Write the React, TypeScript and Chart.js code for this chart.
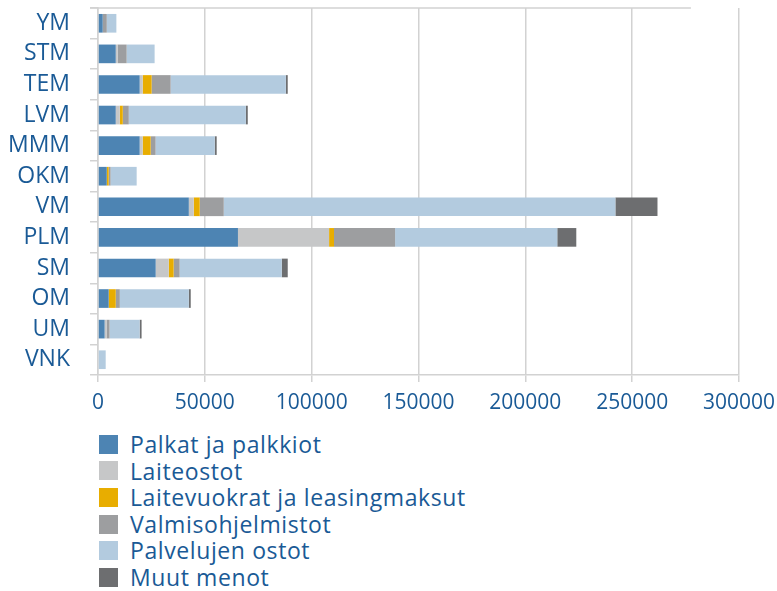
import React, { useEffect, useRef } from "react";
import { Chart, registerables } from "chart.js";

Chart.register(...registerables);

const categories = ["YM", "STM", "TEM", "LVM", "MMM", "OKM", "VM", "PLM", "SM", "OM", "UM", "VNK"];

const palkat = [2200, 8300, 19500, 8300, 19500, 4100, 42500, 65500, 27000, 5000, 3100, 0];
const laiteostot = [0, 900, 1400, 1900, 1400, 0, 2300, 42650, 6100, 0, 900, 0];
const laitevuokrat = [0, 0, 4200, 1400, 3750, 900, 2800, 2300, 2300, 3300, 0, 0];
const valmisohjelmistot = [1900, 4200, 8900, 2800, 2300, 900, 11250, 28600, 2800, 1900, 1400, 0];
const palvelujenOstot = [4500, 13100, 53900, 54800, 27700, 12200, 183300, 75900, 47800, 32300, 14100, 3600];
const muutMenot = [0, 0, 900, 900, 900, 0, 19700, 8900, 2800, 900, 900, 0];

const seriesLabels = [
  "Palkat ja palkkiot",
  "Laiteostot",
  "Laitevuokrat ja leasingmaksut",
  "Valmisohjelmistot",
  "Palvelujen ostot",
  "Muut menot",
];
const seriesColors = ["#4d84b3", "#c6c7c8", "#e8ad00", "#9d9ea0", "#b3cbdf", "#6d6e70"];
const seriesValues = [palkat, laiteostot, laitevuokrat, valmisohjelmistot, palvelujenOstot, muutMenot];

const xMax = 300000;
const xStep = 50000;
const topLineEnd = 277500;

const textColor = "#1a5a96";
const gridColor = "#d2d2d2";
const fontFamily = "'Open Sans', 'Noto Sans', sans-serif";

export default function App() {
  const ref = useRef<HTMLCanvasElement>(null);

  useEffect(() => {
    document.body.style.margin = "0";
    const topLine = {
      id: "topLine",
      afterDraw(chart: any) {
        const { ctx, chartArea, scales } = chart;
        ctx.save();
        ctx.strokeStyle = gridColor;
        ctx.lineWidth = 1.5;
        ctx.beginPath();
        ctx.moveTo(chartArea.left - 8, chartArea.top);
        ctx.lineTo(scales.x.getPixelForValue(topLineEnd), chartArea.top);
        ctx.stroke();
        ctx.restore();
      },
    };
    const chart = new Chart(ref.current as HTMLCanvasElement, {
      type: "bar",
      data: {
        labels: categories,
        datasets: seriesValues.map((vals, i) => ({
          label: seriesLabels[i],
          data: vals,
          backgroundColor: seriesColors[i],
          borderWidth: 0,
          barPercentage: 0.61,
          categoryPercentage: 1,
        })),
      },
      options: {
        indexAxis: "y",
        responsive: false,
        animation: false,
        layout: { padding: { top: 8, right: 38, left: 0, bottom: 0 } },
        plugins: { legend: { display: false }, tooltip: { enabled: false } },
        scales: {
          x: {
            stacked: true,
            min: 0,
            max: xMax,
            ticks: {
              stepSize: xStep,
              color: textColor,
              font: { family: fontFamily, size: 21 },
              padding: 8,
              maxRotation: 0,
              callback: (v: any) => String(v),
            },
            grid: { color: gridColor, lineWidth: 1.5, tickLength: 7 },
            border: { color: gridColor, width: 1.5 },
            afterFit: (s: any) => {
              s.height = 45;
              s.paddingLeft = 0;
              s.paddingRight = 0;
            },
          },
          y: {
            stacked: true,
            ticks: {
              color: textColor,
              font: { family: fontFamily, size: 23 },
              padding: 20,
              autoSkip: false,
            },
            grid: { drawOnChartArea: false, color: gridColor, lineWidth: 1.5, tickLength: 8 },
            border: { color: gridColor, width: 1.5 },
            afterFit: (s: any) => {
              s.width = 98;
              s.paddingTop = 0;
              s.paddingBottom = 0;
            },
          },
        },
      },
      plugins: [topLine],
    });
    return () => chart.destroy();
  }, []);

  return (
    <div style={{ position: "relative", width: 777, height: 591 }}>
      <canvas ref={ref} width={777} height={420} style={{ display: "block" }} />
      <div style={{ position: "absolute", left: 99, top: 431, fontFamily, fontSize: 23, color: textColor }}>
        {seriesLabels.map((lab, i) => (
          <div key={lab} style={{ display: "flex", alignItems: "center", height: 26.6, letterSpacing: 0.6 }}>
            <span style={{ width: 19, height: 19, background: seriesColors[i], display: "inline-block", marginRight: 12, flex: "none" }} />
            <span style={{ whiteSpace: "nowrap", lineHeight: "26.6px" }}>{lab}</span>
          </div>
        ))}
      </div>
    </div>
  );
}
